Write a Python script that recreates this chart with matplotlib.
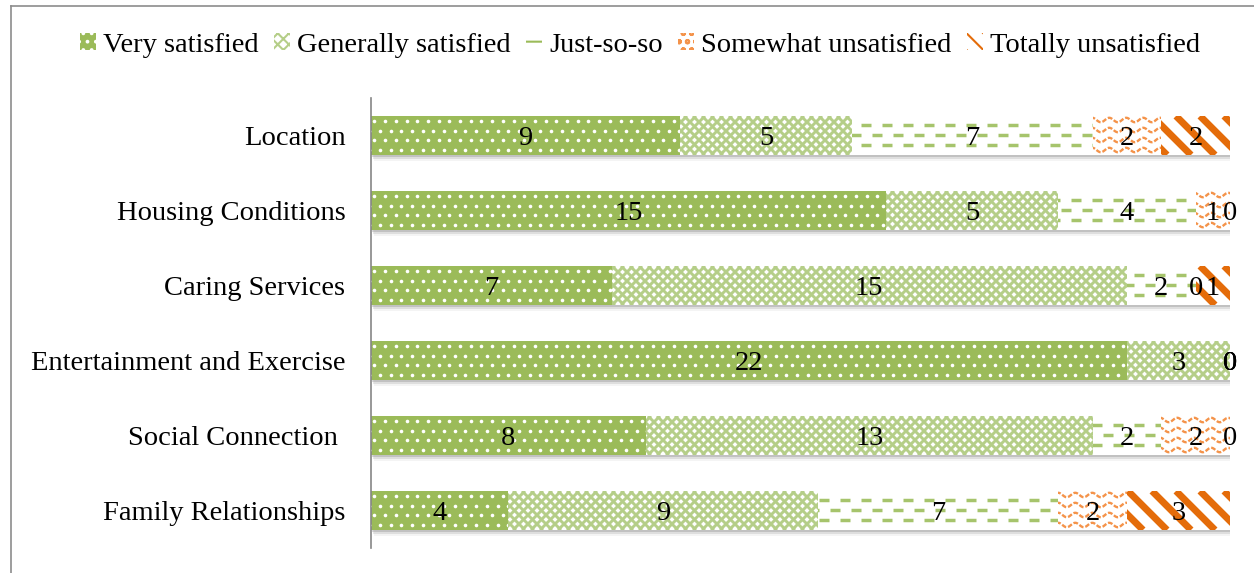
import numpy as np
import matplotlib.pyplot as plt
from matplotlib.patches import Patch
from matplotlib.lines import Line2D
from matplotlib.collections import LineCollection
from matplotlib.transforms import IdentityTransform, offset_copy

plt.rcParams['font.family'] = ['Liberation Serif', 'DejaVu Serif']
plt.rcParams['hatch.linewidth'] = 1.5

categories = ["Location", "Housing Conditions", "Caring Services",
              "Entertainment and Exercise", "Social Connection ", "Family Relationships"]
series_names = ["Very satisfied", "Generally satisfied", "Just-so-so",
                "Somewhat unsatisfied", "Totally unsatisfied"]
very_satisfied = [9, 15, 7, 22, 8, 4]
generally_satisfied = [5, 5, 15, 3, 13, 9]
just_so_so = [7, 4, 2, 0, 2, 7]
somewhat_unsatisfied = [2, 1, 0, 0, 2, 2]
totally_unsatisfied = [2, 0, 1, 0, 0, 3]
series = [very_satisfied, generally_satisfied, just_so_so,
          somewhat_unsatisfied, totally_unsatisfied]

GREEN = '#9BBB59'
LIGHT_GREEN = '#B5CE88'
ORANGE = '#E46C0A'
LIGHT_ORANGE = '#F4934A'
FS = 20.5

W, H = 1254, 573
fig = plt.figure(figsize=(W / 100, H / 100), dpi=100)
ax = fig.add_axes([371 / W, 1 - 548 / H, (1230 - 371) / W, 450 / H])
y = np.arange(len(categories))
ax.set_xlim(0, 25)
ax.set_ylim(len(categories) - 0.5, -0.5)
bar_h = 0.52

# soft drop shadow behind each full bar
totals = np.sum(series, axis=0)
for dx, dy, a in [(1, -2, 0.30), (2, -4, 0.18), (3, -6, 0.08)]:
    ax.barh(y, totals, height=bar_h, color='#7F7F7F', alpha=a, lw=0,
            transform=offset_copy(ax.transData, fig, x=dx, y=dy, units='dots'), zorder=1)


def box(bar):
    pts = ax.transData.transform([(bar.get_x(), bar.get_y()),
                                  (bar.get_x() + bar.get_width(), bar.get_y() + bar.get_height())])
    (xa, xb), (ya, yb) = np.sort(pts[:, 0]), np.sort(pts[:, 1])
    return xa, xb, ya, yb


def add_lines(segs, bar, color, lw, **kw):
    lc = LineCollection(segs, colors=color, linewidths=lw, transform=IdentityTransform(),
                        zorder=3, **kw)
    ax.add_collection(lc, autolim=False)
    lc.set_clip_path(bar)


def decorate(bar, kind):
    xa, xb, ya, yb = box(bar)
    if xb - xa < 0.5:
        return
    hgt = yb - ya
    if kind == 0:
        # white dots on green
        xs_list, ys_list = [], []
        for k, yy in enumerate(np.arange(yb - 5, ya, -9.6)):
            off = 0 if k % 2 == 0 else 5.35
            xs = np.arange(np.floor(xa / 10.7) * 10.7 + off, xb + 11, 10.7)
            xs_list.extend(xs)
            ys_list.extend([yy] * len(xs))
        ln, = ax.plot(xs_list, ys_list, 'o', ms=2.6, mew=0, color='white',
                      transform=IdentityTransform(), zorder=3)
        ln.set_clip_path(bar)
    elif kind == 1:
        # light green lattice
        sp = 9.0
        segs = []
        for c in np.arange(np.floor((xa - hgt) / sp) * sp, xb + hgt + sp, sp):
            segs.append([(c, ya), (c + hgt, yb)])
            segs.append([(c, yb), (c + hgt, ya)])
        add_lines(segs, bar, LIGHT_GREEN, 2.1)
    elif kind == 2:
        # staggered green dashes
        segs = []
        for k, frac in enumerate([0.23, 0.49, 0.75]):
            yy = yb - frac * hgt
            off = 0 if k % 2 == 0 else 10.5
            for x in np.arange(np.floor(xa / 21) * 21 - off, xb + 21, 21):
                segs.append([(x, yy), (x + 10, yy)])
        add_lines(segs, bar, '#A6C46C', 2.5, capstyle='butt')
    elif kind == 3:
        # orange waves
        segs = []
        xs = np.linspace(xa - 2, xb + 2, 200)
        for yy in np.arange(yb - 4, ya, -10):
            segs.append(np.column_stack([xs, yy + 2.2 * np.sin(2 * np.pi * xs / 17)]))
        add_lines(segs, bar, LIGHT_ORANGE, 1.7, linestyles=(0, (2.0, 0.8)))
    else:
        # wide orange diagonal stripes
        sp = 24.0
        segs = []
        for c in np.arange(np.floor((xa - hgt) / sp) * sp, xb + hgt + sp, sp):
            segs.append([(c, yb), (c + hgt, ya)])
        add_lines(segs, bar, ORANGE, 5.0, capstyle='butt')


faces = [GREEN, 'white', 'white', 'white', 'white']
left = np.zeros(len(categories))
for k, vals in enumerate(series):
    bars = ax.barh(y, vals, left=left, height=bar_h, color=faces[k], lw=0, zorder=2)
    for b in bars:
        decorate(b, k)
    labels = ax.bar_label(bars, label_type='center', fontsize=FS, zorder=5)
    for t in labels:
        t.set_va('center_baseline')
    left += np.array(vals)

ax.set_xlim(0, 25)
ax.set_ylim(len(categories) - 0.5, -0.5)
ax.set_yticks(y, categories, fontsize=FS)
ax.tick_params(axis='y', length=0, pad=18.5)
ax.set_xticks([])
for s in ['top', 'right', 'bottom']:
    ax.spines[s].set_visible(False)
ax.spines['left'].set_color('#868686')
ax.spines['left'].set_linewidth(1.2)

# outer frame of the chart area
fig.add_artist(Line2D([11 / W, 1], [1 - 6 / H, 1 - 6 / H], color='#8C8C8C', lw=1.2))
fig.add_artist(Line2D([11 / W, 11 / W], [0, 1 - 6 / H], color='#8C8C8C', lw=1.2))

handles = [
    Patch(facecolor=GREEN, edgecolor='white', hatch='..', lw=0),
    Patch(facecolor='white', edgecolor=LIGHT_GREEN, hatch='xxx', lw=0),
    Patch(facecolor='white', edgecolor=GREEN, hatch='-', lw=0),
    Patch(facecolor='white', edgecolor=LIGHT_ORANGE, hatch='oo', lw=0),
    Patch(facecolor='white', edgecolor=ORANGE, hatch='\\\\', lw=0),
]
fig.legend(handles, series_names, loc='center', bbox_to_anchor=(640 / W, 1 - 45 / H),
           ncol=5, frameon=False, fontsize=FS, handlelength=0.55, handleheight=0.55,
           handletextpad=0.25, columnspacing=0.55)

fig.savefig('out.png', dpi=100)
